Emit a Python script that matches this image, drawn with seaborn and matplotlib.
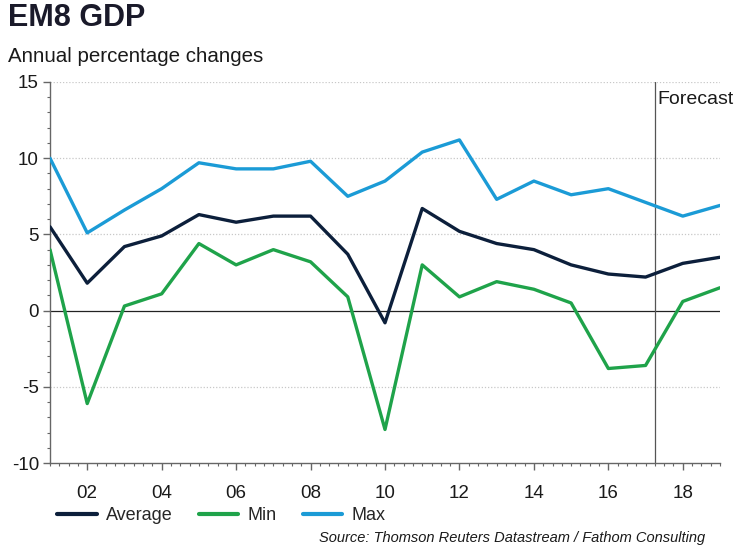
import matplotlib
matplotlib.use("Agg")
import matplotlib.pyplot as plt
from matplotlib.ticker import MultipleLocator, FixedLocator
from matplotlib.lines import Line2D
import seaborn as sns
import pandas as pd

years = list(range(2001, 2020))
average = [5.5, 1.8, 4.2, 4.9, 6.3, 5.8, 6.2, 6.2, 3.7, -0.8, 6.7, 5.2, 4.4, 4.0, 3.0, 2.4, 2.2, 3.1, 3.5]
minimum = [4.0, -6.1, 0.3, 1.1, 4.4, 3.0, 4.0, 3.2, 0.9, -7.8, 3.0, 0.9, 1.9, 1.4, 0.5, -3.8, -3.6, 0.6, 1.5]
maximum = [10.0, 5.1, 6.6, 8.0, 9.7, 9.3, 9.3, 9.8, 7.5, 8.5, 10.4, 11.2, 7.3, 8.5, 7.6, 8.0, 7.1, 6.2, 6.9]
series_names = ["Average", "Min", "Max"]
tick_years = [2002, 2004, 2006, 2008, 2010, 2012, 2014, 2016, 2018]
tick_labels = ["02", "04", "06", "08", "10", "12", "14", "16", "18"]
forecast_start = 2017.25

colors = {"Average": "#0c1f3b", "Min": "#1fa34a", "Max": "#1b9bd6"}

df = pd.DataFrame({
    "year": years * 3,
    "value": average + minimum + maximum,
    "series": ["Average"] * len(years) + ["Min"] * len(years) + ["Max"] * len(years),
})

sns.set_style("white")
plt.rcParams["font.family"] = ["Liberation Sans", "DejaVu Sans"]
plt.rcParams["axes.unicode_minus"] = False

fig = plt.figure(figsize=(7.45, 5.5), dpi=100)
ax = fig.add_axes([50 / 745, 87 / 550, 670 / 745, 381 / 550])

# grid lines
for v in [-5, 5, 10, 15]:
    ax.axhline(v, color="#c8c8c8", lw=0.9, ls=(0, (1, 1.5)), zorder=0)
ax.axhline(0, color="#222222", lw=0.9, zorder=1)
ax.axvline(forecast_start, color="#555555", lw=0.9, zorder=1)

sns.lineplot(data=df, x="year", y="value", hue="series", hue_order=series_names,
             palette=colors, lw=2.4, ax=ax, legend=False, zorder=3)

ax.set_xlim(2001, 2019)
ax.set_ylim(-10, 15)
ax.xaxis.set_major_locator(FixedLocator(tick_years))
ax.set_xticklabels(tick_labels)
ax.xaxis.set_minor_locator(MultipleLocator(0.25))
ax.yaxis.set_major_locator(MultipleLocator(5))
ax.yaxis.set_minor_locator(MultipleLocator(1))
ax.set_xlabel("")
ax.set_ylabel("")

for side in ["top", "right"]:
    ax.spines[side].set_visible(False)
for side in ["left", "bottom"]:
    ax.spines[side].set_color("#666666")
    ax.spines[side].set_linewidth(1.0)

ax.tick_params(axis="both", which="both", bottom=True, left=True, top=False, right=False)
ax.tick_params(axis="both", which="major", direction="out", length=5, width=1,
               color="#666666", labelsize=13.5, labelcolor="#1a1a1a", pad=3)
ax.tick_params(axis="both", which="minor", direction="out", length=2.5, width=0.8,
               color="#666666")
ax.tick_params(axis="x", which="major", pad=11)

ax.text(2017.33, 14.4, "Forecast", fontsize=14, color="#1a1a1a", ha="left", va="top")

fig.text(8 / 745, 1 - 18 / 550, "EM8 GDP", fontsize=22, fontweight="bold",
         color="#1a1a2a", ha="left", va="center")
fig.text(8 / 745, 1 - 57 / 550, "Annual percentage changes", fontsize=14.8,
         color="#1a1a1a", ha="left", va="center")

handles = [Line2D([0], [0], color=colors[s], lw=3) for s in series_names]
fig.legend(handles, series_names, loc="center left", bbox_to_anchor=(57 / 745, 1 - 516 / 550),
           ncol=3, frameon=False, fontsize=13, handlelength=2.2, handletextpad=0.5,
           columnspacing=1.45, borderpad=0, borderaxespad=0)

fig.text(705 / 745, 1 - 538 / 550, "Source: Thomson Reuters Datastream / Fathom Consulting",
         fontsize=10.5, style="italic", color="#1a1a1a", ha="right", va="center")

fig.savefig("out.png", dpi=100)
